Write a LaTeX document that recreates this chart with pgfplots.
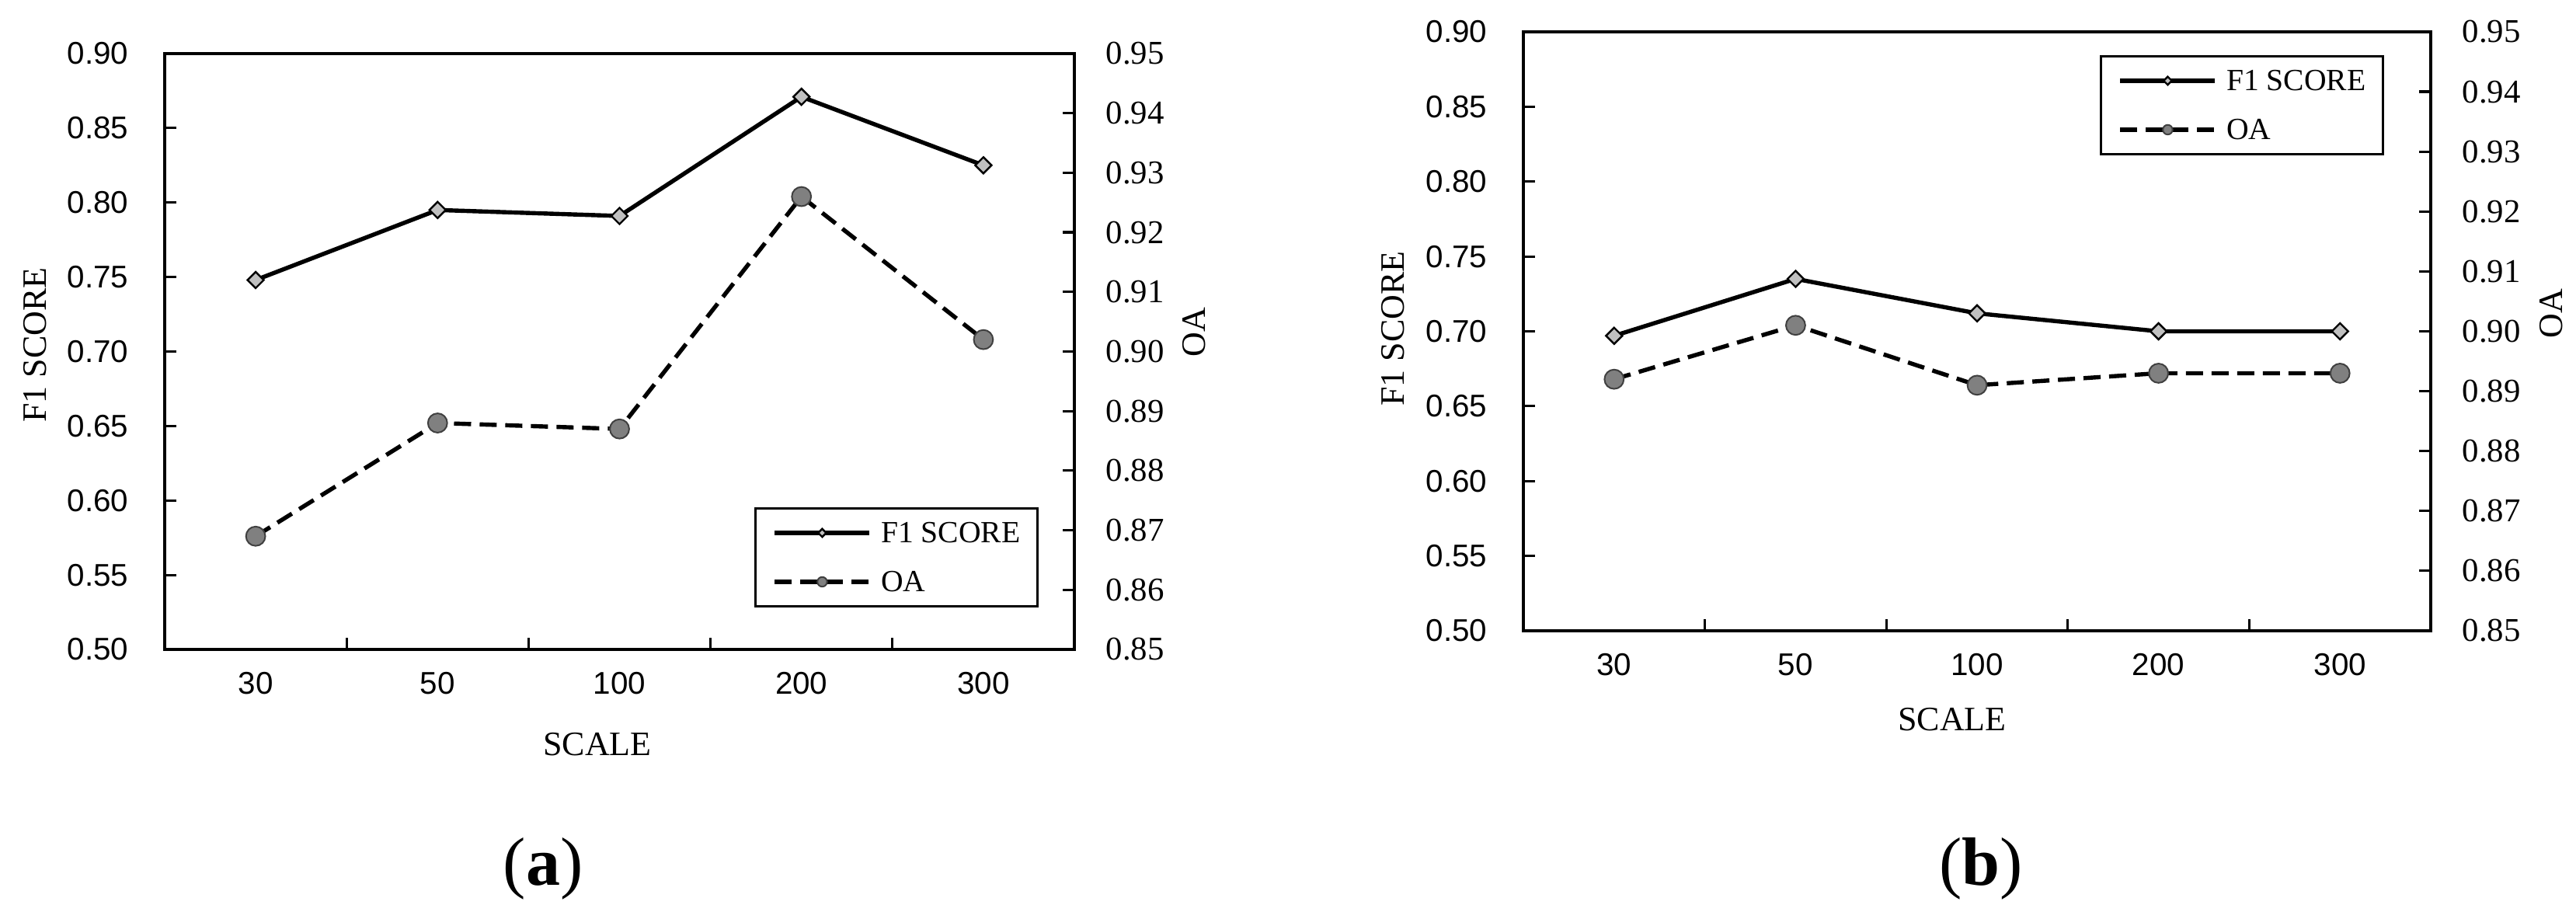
\documentclass[border=0pt]{standalone}
\usepackage{fontspec}
\setmainfont{Liberation Serif}
\newfontfamily\sansf{Liberation Sans}
\usepackage{pgfplots}
\pgfplotsset{compat=1.18}
\definecolor{dfill}{HTML}{C0C0C0}
\definecolor{cfill}{HTML}{808080}
\definecolor{cdraw}{HTML}{404040}
\pgfplotsset{
  base/.style={
    scale only axis,
    xmin=-0.5, xmax=4.5,
    axis line style={line width=1pt},
    tick style={line width=0.8pt, black},
    tick align=inside,
    major tick length=3.75pt,
    /pgf/number format/assume math mode=true,
    clip=false,
  },
  leftax/.style={
    base,
    ymin=0.5, ymax=0.9,
    ytick={0.5,0.55,0.6,0.65,0.7,0.75,0.8,0.85,0.9},
    ytick pos=left,
    xtick pos=left,
    xtick={0.5,1.5,2.5,3.5},
    xticklabels={,,,},
    extra x ticks={0,1,2,3,4},
    extra x tick labels={30,50,100,200,300},
    extra x tick style={tick style={draw=none}},
    xticklabel style={font=\sansf\fontsize{10.1}{12}\selectfont, inner sep=0pt, yshift=-7.25pt},
    yticklabel style={/pgf/number format/.cd, fixed, fixed zerofill, precision=2, /tikz/.cd,
      font=\sansf\fontsize{10.1}{12}\selectfont, inner sep=0pt, xshift=-11.5pt},
    legend cell align=left,
    legend image code/.code={
      \draw[mark repeat=2, mark phase=2, #1, every mark/.append style={scale=0.5}]
        plot coordinates {(0pt,0pt) (15.25pt,0pt) (30.5pt,0pt)};
    },
    legend style={draw=black, line width=0.75pt, anchor=north east,
      font=\fontsize{9.9}{11}\selectfont,
      inner xsep=5.5pt, inner ysep=0pt, row sep=0pt, column sep=3pt,
      nodes={inner sep=0pt, text height=11.1pt, text depth=4.65pt}},
  },
  rightax/.style={
    base,
    ymin=0.85, ymax=0.95,
    ytick={0.85,0.86,0.87,0.88,0.89,0.9,0.91,0.92,0.93,0.94,0.95},
    axis x line=none,
    axis y line*=right,
    ytick pos=right,
    yticklabel style={/pgf/number format/.cd, fixed, fixed zerofill, precision=2, /tikz/.cd,
      font=\fontsize{10.7}{12}\selectfont, inner sep=0pt, xshift=10pt},
  },
  f1/.style={black, line width=1.35pt, mark=square*, mark size=1.85pt,
    mark options={rotate=45, fill=dfill, draw=black, line width=0.6pt, solid}},
  oa/.style={black, line width=1.35pt, dash pattern=on 5.5pt off 2.75pt, mark=*, mark size=3.1pt,
    mark options={fill=cfill, draw=cdraw, line width=0.5pt, solid}},
}
\begin{document}
\begin{tikzpicture}
\path[use as bounding box] (0,0) rectangle (829pt,293.5pt);
% ---------- (a) ----------
\begin{axis}[leftax, at={(53pt,84.5pt)}, anchor=south west, width=292.75pt, height=191.75pt,
  legend style={at={(0.9607,0.2386)}}]
\addplot[f1] coordinates {(0,0.748) (1,0.795) (2,0.791) (3,0.871) (4,0.825)};
\addlegendentry{F1 SCORE}
\addlegendimage{oa}
\addlegendentry{OA}
\end{axis}
\begin{axis}[rightax, at={(53pt,84.5pt)}, anchor=south west, width=292.75pt, height=191.75pt]
\addplot[oa] coordinates {(0,0.869) (1,0.888) (2,0.887) (3,0.926) (4,0.902)};
\end{axis}
% ---------- (b) ----------
\begin{axis}[leftax, at={(490.25pt,90.5pt)}, anchor=south west, width=292pt, height=192.75pt,
  legend style={at={(0.9486,0.9611)}}]
\addplot[f1] coordinates {(0,0.697) (1,0.735) (2,0.712) (3,0.700) (4,0.700)};
\addlegendentry{F1 SCORE}
\addlegendimage{oa}
\addlegendentry{OA}
\end{axis}
\begin{axis}[rightax, at={(490.25pt,90.5pt)}, anchor=south west, width=292pt, height=192.75pt]
\addplot[oa] coordinates {(0,0.892) (1,0.901) (2,0.891) (3,0.893) (4,0.893)};
\end{axis}
% ---------- labels ----------
\begin{scope}[every node/.style={font=\fontsize{11}{13}\selectfont, inner sep=0pt}]
\node[rotate=90] at (11.25pt,182.5pt) {F1 SCORE};
\node at (192.25pt,54pt) {SCALE};
\node[rotate=90] at (384.25pt,186.5pt) {OA};
\node[rotate=90] at (448.25pt,187.75pt) {F1 SCORE};
\node at (628.25pt,62pt) {SCALE};
\node[rotate=90] at (821pt,192.5pt) {OA};
\end{scope}
\node[font=\fontsize{22}{24}\selectfont, inner sep=0pt] at (174.75pt,14pt) {(\textbf{a})};
\node[font=\fontsize{22}{24}\selectfont, inner sep=0pt] at (637.5pt,14pt) {(\textbf{b})};
\end{tikzpicture}
\end{document}
